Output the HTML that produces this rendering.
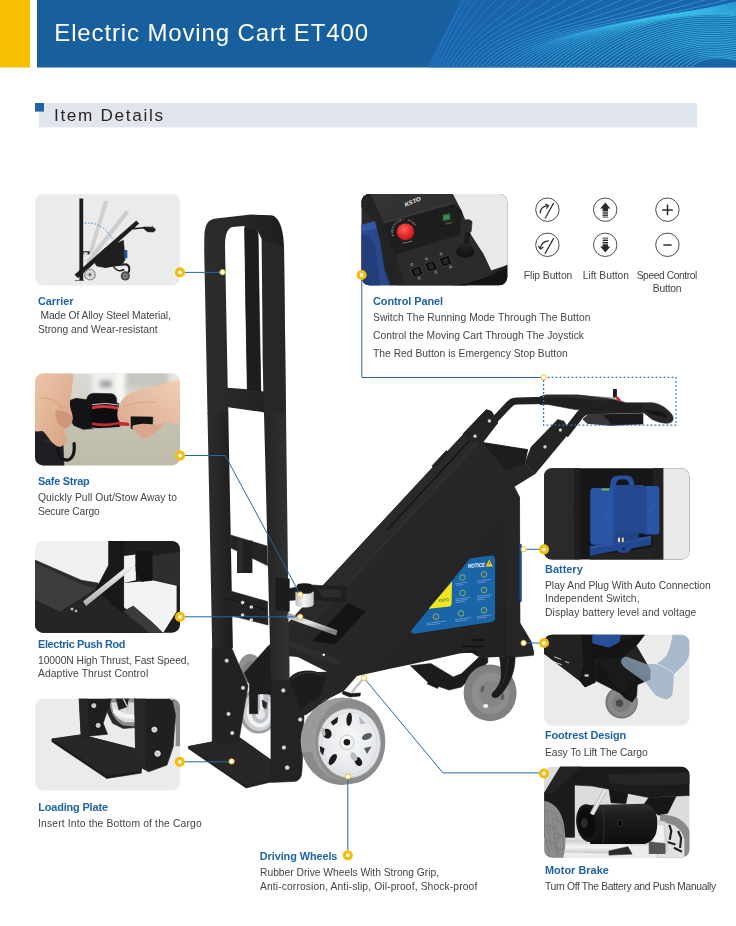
<!DOCTYPE html>
<html lang="en"><head><meta charset="utf-8"><title>Electric Moving Cart ET400</title>
<style>
html,body{margin:0;padding:0;background:#fff}
body{width:736px;height:926px;position:relative;overflow:hidden;font-family:"Liberation Sans",sans-serif}
svg{position:absolute;left:0;top:0}
#tx{position:absolute;left:0;top:0;width:736px;height:926px;will-change:transform}
.x{position:absolute;white-space:nowrap;line-height:1;font-family:"Liberation Sans",sans-serif}
.t{font-size:24.0px;font-weight:400;color:#ffffff}
.h{font-size:17.2px;font-weight:400;color:#2b2422}
.b{font-size:10.9px;font-weight:700;color:#1d63a6}
.r{font-size:10.3px;font-weight:400;color:#444444}
</style></head>
<body>
<svg width="736" height="926" viewBox="0 0 736 926">
<defs>
  <clipPath id="c1"><rect x="35" y="194" width="145" height="91.4" rx="8"/></clipPath>
  <clipPath id="c2"><rect x="35" y="373.6" width="145" height="91.8" rx="8"/></clipPath>
  <clipPath id="c3"><rect x="35" y="541" width="145" height="91.7" rx="8"/></clipPath>
  <clipPath id="c4"><rect x="35" y="698.8" width="145" height="91.8" rx="8"/></clipPath>
  <clipPath id="c5"><rect x="361.5" y="194" width="145.8" height="91.3" rx="8"/></clipPath>
  <clipPath id="c6"><rect x="544" y="468.2" width="145.4" height="91.3" rx="8"/></clipPath>
  <clipPath id="c7"><rect x="544" y="634.7" width="145.4" height="91" rx="8"/></clipPath>
  <clipPath id="c8"><rect x="544" y="766.7" width="145.4" height="91" rx="8"/></clipPath>
</defs>

<g id="header">
<rect x="0" y="0" width="30" height="67.5" fill="#f5c000"/>
<rect x="37" y="0" width="699" height="67.5" fill="#185f9d"/>
<clipPath id="hc"><rect x="37" y="0" width="699" height="67.5"/></clipPath>
<g clip-path="url(#hc)" fill="none" stroke-width="0.8">
<path d="M428 68 L466 -6 L740 -6 L740 68 Z" fill="#1b69b4" stroke="none" opacity="0.5"/>
<path d="M428.0 68 C440.3 42.8 449.2 26.4 466.0 -8.0" stroke="#2c7ce2" opacity="0.85"/>
<path d="M430.5 68 C443.0 42.8 449.3 25.0 468.8 -8.0" stroke="#2c7ee2" opacity="0.85"/>
<path d="M433.6 68 C446.4 42.5 452.8 24.2 474.6 -8.0" stroke="#2d81e2" opacity="0.85"/>
<path d="M436.9 68 C450.2 42.0 458.3 23.8 482.4 -8.0" stroke="#2d83e3" opacity="0.85"/>
<path d="M440.3 68 C454.3 41.1 465.3 23.6 491.9 -8.0" stroke="#2e86e3" opacity="0.85"/>
<path d="M444.0 68 C458.8 39.9 473.6 23.8 503.1 -8.0" stroke="#2e89e4" opacity="0.85"/>
<path d="M447.7 68 C463.5 38.3 482.9 24.2 515.6 -8.0" stroke="#2f8be4" opacity="0.85"/>
<path d="M451.5 68 C468.6 36.4 493.1 24.8 529.5 -8.0" stroke="#2f8ee5" opacity="0.85"/>
<path d="M455.4 68 C474.0 34.1 504.0 25.6 544.6 -8.0" stroke="#3091e5" opacity="0.85"/>
<path d="M459.4 68 C479.8 32.9 515.4 26.4 561.0 -8.0" stroke="#3193e5" opacity="0.85"/>
<path d="M463.4 68 C485.8 32.3 527.4 27.4 578.4 -8.0" stroke="#3196e6" opacity="0.85"/>
<path d="M467.5 68 C492.2 31.5 539.9 28.2 596.9 -8.0" stroke="#3299e6" opacity="0.85"/>
<path d="M471.7 68 C498.8 30.7 552.8 29.0 616.5 -8.0" stroke="#329be7" opacity="0.85"/>
<path d="M475.9 68 C505.8 29.8 566.2 29.5 637.0 -8.0" stroke="#339ee7" opacity="0.85"/>
<path d="M480.1 68 C513.0 28.8 579.9 29.9 658.5 -8.0" stroke="#33a1e8" opacity="0.85"/>
<path d="M484.4 68 C520.5 27.8 594.1 29.9 681.0 -8.0" stroke="#34a3e8" opacity="0.85"/>
<path d="M488.8 68 C528.3 26.6 608.6 29.5 704.4 -8.0" stroke="#35a6e9" opacity="0.85"/>
<path d="M493.2 68 C536.4 25.5 623.6 28.8 728.7 -8.0" stroke="#35a9e9" opacity="0.85"/>
<path d="M497.6 68 C544.7 24.3 638.9 27.5 753.8 -8.0" stroke="#36abe9" opacity="0.85"/>
<path d="M502.1 68 C551.6 23.7 649.2 26.1 770.0 -6.5" stroke="#36aeea" opacity="0.85"/>
<path d="M506.6 68 C555.7 24.2 650.2 23.3 770.0 -4.5" stroke="#37b1ea" opacity="0.85"/>
<path d="M511.1 68 C559.8 24.7 651.5 20.5 770.0 -2.6" stroke="#37b3eb" opacity="0.85"/>
<path d="M515.7 68 C563.9 25.2 652.9 18.0 770.0 -0.6" stroke="#38b6eb" opacity="0.85"/>
<path d="M520.3 68 C568.0 25.7 654.6 15.6 770.0 1.3" stroke="#39b9ec" opacity="0.85"/>
<path d="M524.9 68 C572.2 26.2 656.4 13.4 770.0 3.3" stroke="#39bbec" opacity="0.85"/>
<path d="M529.5 68 C576.3 26.8 658.3 11.3 770.0 5.3" stroke="#3abeed" opacity="0.85"/>
<path d="M534.2 68 C580.5 27.3 660.5 9.5 770.0 7.2" stroke="#3ac0ed" opacity="0.85"/>
<path d="M538.9 68 C584.6 27.8 662.7 7.8 770.0 9.2" stroke="#3bc3ed" opacity="0.85"/>
<path d="M543.7 68 C588.8 28.3 665.1 6.3 770.0 11.1" stroke="#3bc6ee" opacity="0.85"/>
<path d="M548.4 68 C592.9 28.8 667.6 4.9 770.0 13.1" stroke="#3cc8ee" opacity="0.85"/>
<path d="M553.2 68 C597.1 29.3 670.2 3.8 770.0 15.1" stroke="#3dcbef" opacity="0.85"/>
<path d="M558.1 68 C601.2 29.9 672.9 2.8 770.0 17.0" stroke="#3dceef" opacity="0.85"/>
<path d="M562.9 68 C605.4 30.4 675.7 2.1 770.0 19.0" stroke="#3ed0f0" opacity="0.85"/>
<path d="M567.7 68 C609.5 30.9 678.6 1.5 770.0 20.9" stroke="#3ed0f0" opacity="0.85"/>
<path d="M572.6 68 C613.7 31.4 681.2 2.4 770.0 22.9" stroke="#3ed0f0" opacity="0.85"/>
<path d="M577.5 68 C617.9 31.9 683.5 4.9 770.0 24.9" stroke="#3ed0f0" opacity="0.85"/>
<path d="M582.5 68 C622.0 32.4 685.8 7.4 770.0 26.8" stroke="#3ed0f0" opacity="0.85"/>
<path d="M587.4 68 C626.2 32.9 688.1 9.9 770.0 28.8" stroke="#3ed0f0" opacity="0.85"/>
<path d="M592.4 68 C630.3 33.4 690.4 12.4 770.0 30.7" stroke="#3ed0f0" opacity="0.85"/>
<path d="M597.3 68 C634.5 34.0 692.7 14.9 770.0 32.7" stroke="#3ed0f0" opacity="0.85"/>
<path d="M602.3 68 C638.6 34.5 695.1 17.4 770.0 34.7" stroke="#3ed0f0" opacity="0.85"/>
<path d="M607.4 68 C642.8 35.0 697.4 19.9 770.0 36.6" stroke="#3ed0f0" opacity="0.85"/>
<path d="M612.4 68 C646.9 35.5 699.7 22.4 770.0 38.6" stroke="#3ed0f0" opacity="0.85"/>
<path d="M617.5 68 C651.1 36.0 702.0 24.9 770.0 40.5" stroke="#3ed0f0" opacity="0.85"/>
<path d="M622.5 68 C655.2 36.5 704.4 27.4 770.0 42.5" stroke="#3ed0f0" opacity="0.85"/>
<path d="M627.6 68 C659.4 37.0 706.7 29.9 770.0 44.5" stroke="#3ed0f0" opacity="0.85"/>
<path d="M632.7 68 C663.5 37.5 709.1 32.4 770.0 46.4" stroke="#3ed0f0" opacity="0.85"/>
<path d="M637.9 68 C667.6 38.0 711.4 34.9 770.0 48.4" stroke="#3ed0f0" opacity="0.85"/>
<path d="M643.0 68 C671.8 38.5 713.8 37.4 770.0 50.4" stroke="#3ed0f0" opacity="0.85"/>
<path d="M648.2 68 C675.9 39.0 716.1 39.9 770.0 52.3" stroke="#3ed0f0" opacity="0.85"/>
<path d="M653.4 68 C680.1 39.9 718.5 42.4 770.0 54.3" stroke="#3ed0f0" opacity="0.85"/>
<path d="M658.5 68 C684.2 41.3 720.9 44.9 770.0 56.2" stroke="#3ed0f0" opacity="0.85"/>
<path d="M663.7 68 C688.3 42.8 723.2 47.4 770.0 58.2" stroke="#3ed0f0" opacity="0.85"/>
<path d="M669.0 68 C692.4 44.2 725.6 49.9 770.0 60.2" stroke="#3ed0f0" opacity="0.85"/>
<path d="M674.2 68 C696.6 45.6 727.9 52.4 770.0 62.1" stroke="#3ed0f0" opacity="0.85"/>
<path d="M679.5 68 C700.7 47.0 730.3 54.9 770.0 64.1" stroke="#3ed0f0" opacity="0.85"/>
<path d="M684.7 68 C704.8 48.3 732.6 57.4 770.0 66.0" stroke="#3ed0f0" opacity="0.85"/>
<path d="M690.0 68 C709.0 49.7 734.9 59.9 770.0 68.0" stroke="#3ed0f0" opacity="0.85"/>
</g>
<rect x="39" y="103" width="658" height="24.4" fill="#e1e6ee"/>
<rect x="35" y="103" width="9" height="8.6" fill="#1d63a6"/>
</g>
<g id="thumbs">
  <!-- 1 Carrier -->
  <g clip-path="url(#c1)">
    <rect x="35" y="194" width="145" height="92" fill="#ebebeb"/>
    <path d="M104.1 200.7 L108.1 201.5 L92.1 253.8 L88.4 253.0 Z" fill="#cfcfcf"/>
    <path d="M125.8 210.1 L129.1 212.7 L89.1 264.3 L85.4 262.0 Z" fill="#cdcdcd"/>
    <path d="M81.7 223.9 Q100.4 219.4 112.6 239.1" fill="none" stroke="#3a8fd0" stroke-width="1" stroke-dasharray="1.5 1.7"/>
    <rect x="79.4" y="198.5" width="3.8" height="82.2" fill="#1c1c1c"/>
    <path d="M74.9 280.5 L83.9 280.5" stroke="#555" stroke-width="0.8"/>
    <path d="M82.4 251.5 L89.3 251.5 L89.3 254.1 L82.4 254.1 Z" fill="#2a2a2a" stroke="#2a2a2a" stroke-width="0.6" stroke-linejoin="round"/>
    <rect x="83.6" y="252.3" width="4" height="2.2" fill="#ddd"/>
    <!-- beam -->
    <path d="M136.2 220.9 L138.9 223.4 L77.9 277.7 L74.9 274.7 Z" fill="#1d1d1d" stroke="#1d1d1d" stroke-width="0.6" stroke-linejoin="round"/>
    <!-- body -->
    <path d="M104.8 248.6 L123.5 240.3 L125.0 259.8 L122.8 263.5 L113.1 265.4 L104.8 267.5 L96.6 266.0 L93.6 260.5 Z" fill="#202020" stroke="#202020" stroke-width="0.6" stroke-linejoin="round"/>
    <rect x="124.3" y="250.1" width="3" height="8.2" fill="#1c4f9a"/>
    <!-- rear arm -->
    <path d="M104.8 266.9 L113.1 265.4 L125.8 264.3 Q130.3 265.7 129.1 271.0 L127.3 274.0" fill="none" stroke="#1c1c1c" stroke-width="2"/>
    <path d="M113.1 265.7 Q116.8 273.2 124.3 269.5" fill="none" stroke="#1c1c1c" stroke-width="1.4"/>
    <!-- handle -->
    <path d="M137.0 222.1 L133.5 228.7 L143.7 227.8 L148.2 229.3" fill="none" stroke="#1c1c1c" stroke-width="1.6" stroke-linejoin="round"/>
    <path d="M143.7 226.9 L153.4 227.2 L155.7 229.9 L153.4 232.0 L147.4 231.7 L144.5 229.3 Z" fill="#1d1d1d" stroke="#1d1d1d" stroke-width="0.6" stroke-linejoin="round"/>
    <path d="M152.4 225.7 v3" stroke="#7a2a2a" stroke-width="0.6"/>
    <!-- wheels -->
    <circle cx="89.9" cy="274.7" r="5.9" fill="#8e8e8e"/><circle cx="89.9" cy="274.7" r="4.6" fill="#e6e8ea"/>
    <path d="M89.9 270.5 V278.9 M85.7 274.7 H94.1 M86.9 271.7 L92.9 277.7 M92.9 271.7 L86.9 277.7" stroke="#8a8d90" stroke-width="0.6"/>
    <circle cx="89.9" cy="274.7" r="1.1" fill="#444"/>
    <circle cx="125.3" cy="275.9" r="4.6" fill="#4c4c4c"/><circle cx="125.3" cy="275.9" r="2.6" fill="#8a8a8a"/><circle cx="125.3" cy="275.9" r="1" fill="#444"/>
  </g>
  <!-- 2 Safe strap photo -->
  <g clip-path="url(#c2)">
    <defs>
      <linearGradient id="gS2" x1="0" y1="0" x2="0" y2="1"><stop offset="0" stop-color="#d9d9d3"/><stop offset="0.4" stop-color="#d2d1c8"/><stop offset="0.56" stop-color="#c4c1b1"/><stop offset="1" stop-color="#bebbaa"/></linearGradient>
      <linearGradient id="gSkin" x1="0" y1="0" x2="1" y2="1"><stop offset="0" stop-color="#efc9ad"/><stop offset="1" stop-color="#d7a283"/></linearGradient>
      <linearGradient id="gSkin2" x1="1" y1="0" x2="0" y2="1"><stop offset="0" stop-color="#f1cfb6"/><stop offset="1" stop-color="#d9a689"/></linearGradient>
      <filter id="bl" x="-20%" y="-20%" width="140%" height="140%"><feGaussianBlur stdDeviation="2.2"/></filter>
    </defs>
    <rect x="35" y="373" width="145" height="93" fill="url(#gS2)"/>
    <g filter="url(#bl)">
      <rect x="91.7" y="369" width="27.2" height="45.0" fill="#eef0ee"/>
      <rect x="116.8" y="369" width="8" height="38" fill="#f8f8f6"/>
      <rect x="126.2" y="369" width="41.8" height="18.6" fill="#c6c6c0"/>
      <rect x="169.1" y="369" width="14" height="30" fill="#e6e6e2"/>
      <rect x="100.0" y="380.5" width="12" height="7" fill="#9a9c98"/>
    </g>
    <!-- trousers -->
    <path d="M33.1 425.5 L62.4 428.6 L64.1 467.3 L33.1 467.3 Z" fill="#1e1f23" stroke="#1e1f23" stroke-width="0.6" stroke-linejoin="round"/>
    <path d="M43.6 441.2 h8" stroke="#38393d" stroke-width="0.8"/>
    <!-- ratchet -->
    <path d="M86.4 403.5 Q85.8 393.7 93.8 393.3 L111.5 393.7 Q117.2 394.1 116.8 403.5 Z" fill="#151517" stroke="#151517" stroke-width="0.6" stroke-linejoin="round"/>
    <path d="M69.7 400.4 L76.0 398.3 L91.7 400.4 L94.8 403.5 L93.8 428.6 L83.3 429.3 L73.9 425.5 L69.7 418.2 Z" fill="#141416" stroke="#141416" stroke-width="0.6" stroke-linejoin="round"/>
    <path d="M91.7 402.5 L118.9 403.5 L119.9 426.5 L91.7 428.6 Z" fill="#0d0d0f" stroke="#0d0d0f" stroke-width="0.6" stroke-linejoin="round"/>
    <path d="M92.1 406.2 Q105.3 403.7 118.4 406.7 L118.4 409.6 Q105.3 406.7 92.1 409.2 Z" fill="#d9363a"/>
    <path d="M92.1 422.3 Q105.3 425.1 118.9 421.7 L118.9 424.2 Q105.3 427.6 92.1 425.1 Z" fill="#c72c30"/>
    <path d="M92.1 404.6 Q105.3 402.1 118.9 405.0" stroke="#cfd2d4" stroke-width="1" fill="none"/>
    <path d="M91.7 428.0 Q105.3 430.1 123.1 428.0" stroke="#b9bcbe" stroke-width="1.2" fill="none"/>
    <path d="M118.9 421.3 L129.3 422.3 L129.3 425.9 L118.9 425.5 Z" fill="#c9282c"/>
    <!-- hook -->
    <path d="M65.5 423.8 Q58.2 431.8 57.8 450.6 Q58.6 459.4 67.0 460.2 Q75.4 458.5 74.1 443.5" fill="none" stroke="#151517" stroke-width="3.2" stroke-linecap="round"/>
    <!-- left hand -->
    <path d="M33.1 371.1 C39.2 362.0 63.2 368.3 69.7 371.1 C76.2 373.9 72.0 382.2 72.0 387.8 C72.0 393.4 69.8 399.6 69.9 404.6 C70.1 409.5 72.8 414.0 72.8 417.5 C72.8 421.1 71.3 423.8 69.9 425.9 C68.5 428.0 65.0 427.7 64.5 430.1 C63.9 432.5 67.3 437.3 66.6 440.1 C65.9 442.9 62.7 446.5 60.3 446.8 C57.8 447.2 54.7 444.7 51.9 442.2 C49.1 439.7 46.7 434.5 43.6 431.8 C40.4 429.0 34.8 436.0 33.1 425.9 C31.3 415.8 27.0 380.2 33.1 371.1 Z" fill="url(#gSkin)"/>
    <path d="M56.1 410.8 C58.0 409.2 67.1 412.2 69.7 414.0 C72.4 415.7 72.5 419.0 72.0 421.3 C71.5 423.6 68.9 427.6 66.6 428.0 C64.3 428.4 59.9 426.7 58.2 423.8 C56.5 421.0 54.2 412.5 56.1 410.8 Z" fill="#c98f72" opacity="0.75"/>
    <path d="M39.4 398.3 Q54.0 396.2 62.4 408.7" stroke="#c08a6e" stroke-width="0.8" fill="none" opacity="0.7"/>
    <!-- right hand -->
    <path d="M182.7 382.8 C178.3 377.0 164.4 384.4 156.5 385.7 C148.7 387.1 141.2 388.8 135.6 391.0 C130.0 393.1 126.0 395.4 123.1 398.7 C120.1 402.0 118.2 407.1 117.6 410.8 C117.0 414.6 117.3 419.2 119.3 421.3 C121.2 423.4 126.6 421.6 129.3 423.4 C132.0 425.1 133.1 429.3 135.6 431.8 C138.1 434.2 140.9 438.0 144.4 438.0 C147.9 438.0 153.1 434.3 156.5 431.8 C159.9 429.2 160.5 424.4 164.9 422.6 C169.2 420.7 179.7 427.1 182.7 420.5 C185.6 413.8 187.0 388.6 182.7 382.8 Z" fill="url(#gSkin2)"/>
    <path d="M131.0 416.7 L152.8 417.1 L152.3 429.7 L145.0 431.3 L131.0 428.4 Z" fill="#131315" stroke="#131315" stroke-width="0.6" stroke-linejoin="round"/>
    <path d="M132.7 425.9 C134.1 424.6 139.6 424.0 144.0 423.8 C148.3 423.6 155.1 424.9 158.6 424.6 C162.1 424.4 165.2 421.4 164.9 422.6 C164.5 423.7 159.9 429.2 156.5 431.8 C153.1 434.3 147.9 438.0 144.4 438.0 C140.9 438.0 137.6 433.8 135.6 431.8 C133.6 429.7 131.3 427.2 132.7 425.9 Z" fill="#d9a88b"/>
    <path d="M123.1 406.7 Q139.8 400.4 156.5 402.5" stroke="#c89477" stroke-width="0.8" fill="none" opacity="0.7"/>
  </g>
  <!-- 3 Push rod -->
  <g clip-path="url(#c3)">
    <defs>
      <linearGradient id="gR3" x1="0" y1="0" x2="0.5" y2="1"><stop offset="0" stop-color="#9a9da0"/><stop offset="0.45" stop-color="#f2f3f4"/><stop offset="1" stop-color="#85888b"/></linearGradient>
    </defs>
    <rect x="35" y="541" width="145" height="92" fill="#f0f0f0"/>
    <!-- right dark zone -->
    <rect x="108.7" y="541" width="72" height="92" fill="#1e1e1e"/>
    <path d="M152 556 L180 552 L180 586 L152.2 580.3 Z" fill="#2e2e2e" stroke="#2e2e2e" stroke-width="0.6" stroke-linejoin="round"/>
    <!-- white gaps -->
    <path d="M123.6 556 L135.9 554.5 L135.9 580.3 L123.6 583 Z" fill="#f1f1f1"/>
    <path d="M123.6 583 L141.3 581.6 L152.2 580.3 L176.6 585.7 L176.6 611.5 L163 633 L152.2 622.4 L133.2 606 L123.6 611.5 Z" fill="#f3f3f3"/>
    <!-- clamp -->
    <path d="M135.9 551.6 L152 551.6 L152.2 580.3 L141.3 581.6 L135.9 571 Z" fill="#141414" stroke="#141414" stroke-width="0.6" stroke-linejoin="round"/>
    <!-- slab from left -->
    <path d="M35 560 L81.5 580.3 L97.8 583 L108.7 600 L125 612 L163 633 L35 633 Z" fill="#2c2c2c" stroke="#2c2c2c" stroke-width="0.6" stroke-linejoin="round"/>
    <path d="M35 563 L80 584 L96 589 L60 612 L35 600 Z" fill="#3d3d3d" stroke="#3d3d3d" stroke-width="0.6" stroke-linejoin="round"/>
    <path d="M35 600 L60 612 L96 589 L112 600 L163 633 L35 633 Z" fill="#252525" stroke="#252525" stroke-width="0.6" stroke-linejoin="round"/>
    <path d="M96 589 L108.7 565 L108.7 541 L123.6 541 L123.6 611.5 L128 616 L112 604 Z" fill="#181818" stroke="#181818" stroke-width="0.6" stroke-linejoin="round"/>
    <path d="M123.6 611.5 L133.2 606 L152.2 622.4 L163 633 L150 633 Z" fill="#3b3b3b" stroke="#3b3b3b" stroke-width="0.6" stroke-linejoin="round"/>
    <!-- silver rod -->
    <path d="M83 601.6 L137.4 558 L140.6 562 L86.2 606 Z" fill="url(#gR3)"/>
    <path d="M136 555 L146 557 L147 572 L140 574 L135.6 566 Z" fill="#151515" stroke="#151515" stroke-width="0.6" stroke-linejoin="round"/>
    <circle cx="72" cy="609" r="1.5" fill="#bfbfbf"/><circle cx="76" cy="611" r="1.3" fill="#bfbfbf"/>
  </g>
  <!-- 4 Loading plate -->
  <g clip-path="url(#c4)">
    <rect x="35" y="698" width="145" height="93" fill="#ebebeb"/>
    <!-- wheel between posts -->
    <path d="M106.3 697.1 L135.6 697.1 L135.6 727.5 L123.1 728.5 L112.6 723.3 L107.4 712.8 Z" fill="#2a2a2a" stroke="#2a2a2a" stroke-width="0.6" stroke-linejoin="round"/>
    <path d="M109.5 697.1 Q108.8 717.0 123.1 725.4 L135.6 726.4 L135.6 697.1 Z" fill="#8d8d8d"/>
    <path d="M111.5 702.4 Q111.5 717.0 125.1 722.2 L135.6 722.2 L135.6 702.4 Z" fill="#d9dbdd"/>
    <path d="M113.6 708.6 Q123.1 714.9 135.6 714.9 L135.6 719.1 Q121.0 719.5 113.0 712.8 Z" fill="#f3f4f5"/>
    <path d="M115.7 697.1 L129.3 697.1 L127.7 706.6 L118.9 709.7 Z" fill="#222" stroke="#222222" stroke-width="0.6" stroke-linejoin="round"/>
    <path d="M123.1 698.2 l4 8 M129.3 700.3 l-2 10" stroke="#bfc2c4" stroke-width="1.4"/>
    <!-- far right tire -->
    <path d="M170.1 697.1 Q177.4 719.1 175.4 746.3 L182.7 746.3 L182.7 697.1 Z" fill="#8c8c8c"/>
    <path d="M176.4 706.6 l5 6 l-1 9 M177.0 717.0 l5 6 l-1 9 M177.4 727.5 l4 6 l-2 9" stroke="#777" stroke-width="0.6" fill="none"/>
    <!-- plate -->
    <path d="M51.9 739.0 L81.2 734.8 L135.6 748.8 L141.3 767.6 L141.3 773.1 L106.7 778.5 L51.9 741.7 Z" fill="#191919" stroke="#191919" stroke-width="0.6" stroke-linejoin="round"/>
    <path d="M51.9 739.0 L81.2 734.8 L135.6 748.8 L141.3 767.6 L141.3 770.6 L106.7 776.0 Z" fill="#272727" stroke="#272727" stroke-width="0.6" stroke-linejoin="round"/>
    <!-- posts -->
    <path d="M79.1 697.1 L111.8 697.1 L103.2 723.3 L107.6 734.2 L81.2 736.9 Z" fill="#1f1f1f" stroke="#1f1f1f" stroke-width="0.6" stroke-linejoin="round"/>
    <path d="M79.1 697.1 L87.5 697.1 L88.5 735.8 L81.2 736.9 Z" fill="#262626" stroke="#262626" stroke-width="0.6" stroke-linejoin="round"/>
    <path d="M134.6 697.1 L171.6 697.1 L175.4 714.9 L173.3 746.3 L167.0 765.1 L148.6 771.8 L141.3 767.6 L135.6 752.6 Z" fill="#202020" stroke="#202020" stroke-width="0.6" stroke-linejoin="round"/>
    <path d="M134.6 697.1 L145.0 697.1 L145.6 769.7 L141.3 767.6 L135.6 752.6 Z" fill="#282828" stroke="#282828" stroke-width="0.6" stroke-linejoin="round"/>
    <circle cx="93.8" cy="705.7" r="3.5" fill="#111"/><circle cx="93.8" cy="705.7" r="2.4" fill="#e4e4e4" stroke="#9a9a9a" stroke-width="0.5"/><circle cx="93.8" cy="705.7" r="1.1" fill="#b9b9b9"/><circle cx="98.2" cy="725.4" r="3.5" fill="#111"/><circle cx="98.2" cy="725.4" r="2.4" fill="#e4e4e4" stroke="#9a9a9a" stroke-width="0.5"/><circle cx="98.2" cy="725.4" r="1.1" fill="#b9b9b9"/><circle cx="154.4" cy="729.6" r="4.0" fill="#111"/><circle cx="154.4" cy="729.6" r="2.9" fill="#e4e4e4" stroke="#9a9a9a" stroke-width="0.5"/><circle cx="154.4" cy="729.6" r="1.3" fill="#b9b9b9"/><circle cx="157.6" cy="753.6" r="4.2" fill="#111"/><circle cx="157.6" cy="753.6" r="3.1" fill="#e4e4e4" stroke="#9a9a9a" stroke-width="0.5"/><circle cx="157.6" cy="753.6" r="1.4" fill="#b9b9b9"/>
    <circle cx="171.6" cy="699.0" r="1.4" fill="#e0e0e0"/>
  </g>
  <!-- 5 Control panel -->
  <g clip-path="url(#c5)">
    <defs>
      <radialGradient id="gRed" cx="0.42" cy="0.36" r="0.7"><stop offset="0" stop-color="#ff6058"/><stop offset="0.6" stop-color="#e3262c"/><stop offset="1" stop-color="#b5141a"/></radialGradient>
      <linearGradient id="gP5" x1="0" y1="0" x2="1" y2="1"><stop offset="0" stop-color="#353535"/><stop offset="1" stop-color="#272727"/></linearGradient>
    </defs>
    <rect x="361" y="194" width="147" height="92" fill="#2a2a2a"/>
    <!-- light bg -->
    <path d="M452.2 193.1 L507.6 193.1 L507.6 264.9 L490.9 270.5 L482.5 252.8 L471.0 235.0 L461.6 210.9 Z" fill="#e9e9e9"/>
    <!-- panel top surface -->
    <path d="M369.6 193.1 L452.2 193.1 L461.6 210.9 L471.0 235.0 L482.5 252.8 L490.9 270.5 L465.8 286.2 L396.7 286.2 L384.2 269.5 L380.0 242.3 L374.8 221.4 L361.2 206.7 L361.2 193.1 Z" fill="url(#gP5)"/>
    <!-- left dark face -->
    <path d="M361.2 193.1 L369.6 193.1 L383.2 221.4 L395.7 254.9 L405.1 286.2 L390.5 286.2 L384.2 269.5 L380.0 242.3 L374.8 221.4 L361.2 206.7 Z" fill="#232323" stroke="#232323" stroke-width="0.6" stroke-linejoin="round"/>
    <!-- blue battery -->
    <path d="M360.1 225.6 L374.8 221.4 L380.0 242.3 L384.2 269.5 L390.5 286.2 L360.1 286.2 Z" fill="#29498c" stroke="#29498c" stroke-width="0.6" stroke-linejoin="round"/>
    <path d="M360.1 235.0 Q371.6 235.0 374.8 246.5 L380.0 286.2 L360.1 286.2 Z" fill="#213d7a" stroke="#213d7a" stroke-width="0.6" stroke-linejoin="round"/>
    <path d="M360.1 225.6 L374.8 221.4 L376.9 228.7 L360.1 231.8 Z" fill="#3159a6"/>
    <!-- raised dark plate -->
    <path d="M383.2 221.4 L452.2 202.6 L461.6 210.9 L459.9 235.0 L395.7 254.9 Z" fill="#1e1e1e" stroke="#1e1e1e" stroke-width="0.6" stroke-linejoin="round"/>
    <path d="M383.2 221.4 L452.2 202.6 L452.8 203.8 L384.2 223.1 Z" fill="#3c3c3c" stroke="#3c3c3c" stroke-width="0.6" stroke-linejoin="round"/>
    <!-- front lower face -->
    <path d="M395.7 254.9 L459.9 235.0 L482.5 252.8 L490.9 270.5 L465.8 286.2 L405.1 286.2 Z" fill="#2b2b2b" stroke="#2b2b2b" stroke-width="0.6" stroke-linejoin="round"/>
    <!-- tube -->
    <path d="M447.0 286.7 Q482.5 282.1 507.6 264.9 L507.6 286.7 Z" fill="#141414" stroke="#141414" stroke-width="0.6" stroke-linejoin="round"/>
    <path d="M455.3 284.6 Q484.6 280.0 507.6 266.6" stroke="#333" stroke-width="0.8" fill="none"/>
    <!-- logo -->
    <text x="405.5" y="206.7" font-family="Liberation Sans, sans-serif" font-size="5.6" font-weight="700" font-style="italic" fill="#f4f4f4" textLength="17" lengthAdjust="spacingAndGlyphs" transform="rotate(-22 405.5 206.7)">KSTO</text>
    <!-- e-stop -->
    <ellipse cx="405.5" cy="231.8" rx="8.8" ry="8.4" fill="url(#gRed)"/>
    <text font-family="Liberation Sans, sans-serif" font-size="2.7" fill="#dcdcdc" text-anchor="middle" x="394.8 394.2 394.1 394.6 395.6 397.1 398.9 401.1 403.5 405.9 408.4 410.7 412.8 414.5" y="235.7 233.3 230.8 228.4 226.1 224.1 222.5 221.3 220.6 220.4 220.8 221.6 223.0 224.8" rotate="-110 -98 -85 -73 -60 -48 -35 -23 -10 2 15 27 40 52">EMERGENCY STOP</text>
    <path d="M402.6 243.3 l2 -0.6 M405.1 242.9 l2 -0.6 M407.6 242.3 l2 -0.6 M410.1 241.7 l2 -0.6" stroke="#d0d0d0" stroke-width="0.6"/>
    <!-- display -->
    <path d="M442.8 214.7 L450.1 213.4 L450.3 219.7 L443.0 221.0 Z" fill="#245a33" stroke="#245a33" stroke-width="0.6" stroke-linejoin="round"/>
    <path d="M443.6 215.5 L449.3 214.5 L449.5 218.9 L443.8 219.9 Z" fill="#3d8a4e"/>
    <g fill="#0e0e0e"><circle cx="435.5" cy="211.3" r="0.9"/><circle cx="451.6" cy="206.3" r="0.9"/><circle cx="441.1" cy="226.0" r="0.9"/><circle cx="457.4" cy="221.4" r="0.9"/></g>
    <text x="445.7" y="224.5" font-family="Liberation Sans, sans-serif" font-size="2.4" fill="#cfcfcf" transform="rotate(-10 445.7 224.5)">KSTO</text>
    <!-- joystick -->
    <ellipse cx="465.4" cy="251.9" rx="9.2" ry="5.8" fill="#131313"/>
    <ellipse cx="465.6" cy="249.0" rx="7.4" ry="4.6" fill="#1a1a1a"/>
    <ellipse cx="465.8" cy="246.1" rx="5.6" ry="3.6" fill="#222"/>
    <ellipse cx="466.0" cy="243.6" rx="4" ry="2.6" fill="#262626"/>
    <path d="M464.7 243.3 L465.4 230.8 L470.0 230.8 L468.5 243.3 Z" fill="#1b1b1b" stroke="#1b1b1b" stroke-width="0.6" stroke-linejoin="round"/>
    <path d="M462.6 230.8 L462.9 221.4 Q467.3 217.6 472.1 221.4 L471.2 231.4 Q467.3 233.5 462.6 230.8 Z" fill="#2a2a2a" stroke="#2a2a2a" stroke-width="0.6" stroke-linejoin="round"/>
    <!-- rocker switches -->
    <g fill="#0e0e0e" stroke="#585858" stroke-width="0.5">
      <path d="M410.3 269.1 L419.8 265.7 L423.5 274.1 L413.9 277.4 Z"/><path d="M424.4 263.6 L434.0 260.5 L437.8 268.7 L428.1 272.0 Z"/><path d="M439.0 258.6 L448.6 255.3 L452.4 263.6 L442.8 266.8 Z"/>
    </g>
    <g fill="#272727"><path d="M413.5 269.9 L418.1 268.2 L420.2 273.3 L415.6 274.9 Z"/><path d="M427.7 264.5 L432.3 262.8 L434.4 267.8 L429.8 269.5 Z"/><path d="M442.4 259.5 L447.0 257.8 L449.1 262.8 L444.4 264.5 Z"/></g>
    <g fill="none" stroke="#cfcfcf" stroke-width="0.5"><circle cx="411.8" cy="264.5" r="1.1"/><circle cx="426.5" cy="259.0" r="1.1"/><circle cx="441.1" cy="254.0" r="1.1"/><circle cx="419.3" cy="278.3" r="1.1"/><circle cx="435.7" cy="272.4" r="1.1"/><circle cx="450.7" cy="267.0" r="1.1"/></g>
  </g>
  <!-- 6 Battery -->
  <g clip-path="url(#c6)">
    <rect x="544" y="468" width="146" height="92" fill="#171717"/>
    <rect x="544" y="468" width="30.5" height="92" fill="#2a2a2a"/>
    <rect x="574.5" y="468" width="6" height="92" fill="#1f1f1f"/>
    <rect x="653" y="468" width="10.4" height="92" fill="#212121"/>
    <rect x="663.4" y="468" width="27" height="92" fill="#e9e9e9"/>
    <!-- floor -->
    <path d="M590.2 556.1 L653.0 547.7 L653.0 564.4 L590.2 564.4 Z" fill="#232323" stroke="#232323" stroke-width="0.6" stroke-linejoin="round"/>
    <!-- bar -->
    <path d="M590.2 546.6 L650.9 536.2 L650.9 544.5 L632.1 548.1 L627.4 552.3 L620.5 552.7 L616.4 550.2 L590.2 555.6 Z" fill="#23488f" stroke="#23488f" stroke-width="0.6" stroke-linejoin="round"/>
    <path d="M590.2 546.6 L650.9 536.2 L650.9 538.3 L590.2 548.9 Z" fill="#2c55a2"/>
    <circle cx="623.7" cy="548.7" r="1.5" fill="#142a55"/>
    <!-- handle -->
    <path d="M610.1 488.7 L610.1 483.9 Q610.5 475.9 618.5 475.5 L626.8 475.5 Q634.1 476.1 634.1 483.9 L634.1 488.7 Z" fill="#2750a0"/>
    <path d="M616.4 486.0 Q616.4 479.9 620.5 479.7 L625.4 479.7 Q628.9 480.1 628.9 486.0 Z" fill="#171717" stroke="#171717" stroke-width="0.6" stroke-linejoin="round"/>
    <!-- centre block -->
    <rect x="615.3" y="484.9" width="29.3" height="48.5" rx="2.5" fill="#234890"/>
    <path d="M616.4 533.0 L638.3 532.0 L638.3 539.7 L616.4 541.8 Z" fill="#214488" stroke="#214488" stroke-width="0.6" stroke-linejoin="round"/>
    <!-- left block -->
    <rect x="590.2" y="488.1" width="26.4" height="56.7" rx="4" fill="#2a54a4"/>
    <path d="M613.6 489.1 L616.6 490.2 L616.6 543.5 L613.6 544.3 Z" fill="#244a96" stroke="#244a96" stroke-width="0.6" stroke-linejoin="round"/>
    <!-- right block -->
    <rect x="643.6" y="486.0" width="15.7" height="48.5" rx="3.5" fill="#2a54a4"/>
    <path d="M643.6 487.0 L646.1 486.6 L646.1 534.1 L643.6 533.7 Z" fill="#244a96" stroke="#244a96" stroke-width="0.6" stroke-linejoin="round"/>
    <rect x="601.7" y="488.5" width="7.4" height="2" fill="#6fbf3f"/>
    <text x="605.3" y="518.8" font-family="Liberation Sans, sans-serif" font-size="3" font-weight="700" fill="#3f69b5" transform="rotate(-60 605.3 518.8)">KSTO</text>
    <text x="649.8" y="512.5" font-family="Liberation Sans, sans-serif" font-size="3" font-weight="700" fill="#3f69b5" transform="rotate(-60 649.8 512.5)">KSTO</text>
    <rect x="617.8" y="537.2" width="2.4" height="5" fill="#d8d8d8" stroke="#222" stroke-width="0.4"/>
    <rect x="621.6" y="537.2" width="2.4" height="5" fill="#d8d8d8" stroke="#222" stroke-width="0.4"/>
    <circle cx="573.5" cy="511.7" r="0.7" fill="#0c0c0c"/>
  </g>
  <!-- 7 Footrest -->
  <g clip-path="url(#c7)">
    <rect x="544" y="634" width="146" height="92" fill="#ebebeb"/>
    <!-- body -->
    <path d="M542.1 633.1 L645.6 633.1 L638.3 643.0 L635.2 646.3 L596.5 658.2 L595.4 682.3 L585.0 686.9 L579.7 680.6 L543.1 652.6 Z" fill="#1b1b1b" stroke="#1b1b1b" stroke-width="0.6" stroke-linejoin="round"/>
    <path d="M542.1 633.1 L581.8 633.1 L583.9 665.6 L579.7 680.6 L543.1 652.6 Z" fill="#222" stroke="#222222" stroke-width="0.6" stroke-linejoin="round"/>
    <path d="M581.8 633.1 L593.3 633.1 L594.8 682.3 L585.0 686.9 L579.7 680.6 L583.9 665.6 Z" fill="#161616" stroke="#161616" stroke-width="0.6" stroke-linejoin="round"/>
    <!-- battery -->
    <path d="M592.3 633.1 L621.2 633.1 L619.5 642.6 L609.0 648.0 L592.3 643.8 Z" fill="#27509a"/>
    <path d="M592.3 643.8 L609.0 648.0 L619.5 642.6 L644.6 634.6 L638.3 643.0 L635.2 646.3 L596.5 658.2 L592.3 656.8 Z" fill="#141414" stroke="#141414" stroke-width="0.6" stroke-linejoin="round"/>
    <!-- slots -->
    <path d="M554.2 656.8 l7 2.6 M553.0 661.4 l9 3.4 M565.1 661.4 l4 1.5" stroke="#dcdcdc" stroke-width="0.9"/>
    <rect x="584.6" y="674.4" width="4" height="2.2" fill="#d6d6d6"/>
    <!-- caster -->
    <circle cx="621.6" cy="702.2" r="16.2" fill="#767676"/>
    <circle cx="622.0" cy="702.2" r="14.4" fill="#8a8a8a"/>
    <circle cx="621.2" cy="703.2" r="9" fill="#7c7c7c"/>
    <circle cx="619.5" cy="703.2" r="3.6" fill="#4a4a4a"/>
    <path d="M619.5 691.9 L637.3 684.8 L636.7 695.3 L632.1 702.2 L624.7 698.0 Z" fill="#171717" stroke="#171717" stroke-width="0.6" stroke-linejoin="round"/>
    <!-- footrest wedge -->
    <path d="M596.5 658.2 L636.2 645.9 L650.0 669.7 L650.0 679.4 L637.3 684.8 L623.7 695.3 L619.5 692.8 L595.4 680.6 Z" fill="#151515" stroke="#151515" stroke-width="0.6" stroke-linejoin="round"/>
    <path d="M636.2 645.9 L650.0 669.7 L650.0 679.4 L640.4 674.4 L623.7 657.2 Z" fill="#232323" stroke="#232323" stroke-width="0.6" stroke-linejoin="round"/>
    <path d="M596.5 658.2 L623.7 657.2 L640.4 674.4 L623.7 692.8 L619.5 692.8 Z" fill="#1a1a1a" stroke="#1a1a1a" stroke-width="0.6" stroke-linejoin="round"/>
    <!-- foot -->
    <path d="M672.6 634 L690 634 L690 652.3 Q688 660 684.4 664 L674 674.3 L672.6 693.4 Q670 699.6 665.3 699.2 Q659 698 655 694.8 L646.2 683 L625.7 668.4 Q620 664 621.3 659.6 Q623 656.2 627 656.7 L646.2 664 L656.5 664 Q663 660 666.8 655.2 Q671 646 672.6 634 Z" fill="#8fa7be" opacity="0.74"/>
    <path d="M656.5 664 Q668 668 674 674.3" fill="none" stroke="#e8eef4" stroke-width="0.7"/>
  </g>
  <!-- 8 Motor brake -->
  <g clip-path="url(#c8)">
    <defs>
      <linearGradient id="gM8" x1="0" y1="0" x2="0" y2="1"><stop offset="0" stop-color="#303030"/><stop offset="0.3" stop-color="#1c1c1c"/><stop offset="1" stop-color="#0f0f0f"/></linearGradient>
      <linearGradient id="gAx" x1="0" y1="0" x2="0" y2="1"><stop offset="0" stop-color="#c9cbcd"/><stop offset="0.5" stop-color="#f4f5f6"/><stop offset="1" stop-color="#bfc1c3"/></linearGradient>
    </defs>
    <rect x="544" y="766" width="146" height="92" fill="#dcdcdc"/>
    <rect x="544" y="846" width="146" height="12" fill="#ececec"/>
    <!-- chassis -->
    <path d="M560.9 766.2 L690.6 766.2 L690.6 795.5 L665.5 796.5 L648.8 797.6 L627.9 793.4 L609.0 789.2 L592.3 786.1 L574.5 785.0 L574.5 837.3 L544.2 837.3 L544.2 793.4 Z" fill="#1b1b1b" stroke="#1b1b1b" stroke-width="0.6" stroke-linejoin="round"/>
    <path d="M609.0 774.6 L690.6 772.5 L690.6 784.0 L636.2 785.4 L609.0 782.9 Z" fill="#262626" stroke="#262626" stroke-width="0.6" stroke-linejoin="round"/>
    <path d="M560.9 766.2 L581.8 766.2 L552.6 793.4 L544.2 793.4 Z" fill="#242424" stroke="#242424" stroke-width="0.6" stroke-linejoin="round"/>
    <!-- mounts -->
    <path d="M609.0 789.2 L627.9 793.4 L625.8 803.8 L611.1 802.8 Z" fill="#151515" stroke="#151515" stroke-width="0.6" stroke-linejoin="round"/>
    <path d="M648.8 797.6 L676.0 796.5 L667.6 813.3 L659.2 815.3 L642.5 806.4 Z" fill="#171717" stroke="#171717" stroke-width="0.6" stroke-linejoin="round"/>
    <!-- axle -->
    <path d="M565.1 839.8 L630.0 841.5 L630.0 854.1 L565.1 852.4 Z" fill="url(#gAx)"/>
    <path d="M609.0 850.9 L627.9 846.7 L632.1 854.1 L609.0 855.1 Z" fill="#2a2a2a" stroke="#2a2a2a" stroke-width="0.6" stroke-linejoin="round"/>
    <!-- right wheel -->
    <path d="M660.3 814.3 Q684.4 815.3 690.6 833.1 L690.6 858.2 L657.2 858.2 Z" fill="#8a8a8a"/>
    <path d="M663.4 822.7 Q680.2 823.7 684.4 839.4 L684.4 858.2 L657.2 858.2 Z" fill="#dfe1e3"/>
    <path d="M669.3 824.8 l2 6 l-1.6 9 M678.1 831.0 l3 7 l-1 10 M665.5 841.5 l10 3 M673.9 847.8 l8 4" stroke="#222" stroke-width="2.2" fill="none"/>
    <!-- gearbox -->
    <path d="M648.8 819.5 L665.5 821.6 L668.7 852.0 L649.8 854.1 Z" fill="#d3d5d7"/>
    <path d="M653.0 824.8 L663.4 825.8 L664.5 841.5 L654.0 842.5 Z" fill="#eef0f1"/>
    <path d="M648.8 841.5 L665.5 843.6 L665.5 854.1 L648.8 854.1 Z" fill="#1f1f1f" opacity="0.7"/>
    <!-- motor -->
    <path d="M587.1 804.9 L644.6 803.8 Q658.2 807.0 657.2 824.8 Q657.2 840.5 644.6 844.0 L590.2 844.0 Z" fill="url(#gM8)"/>
    <ellipse cx="587.7" cy="823.1" rx="11.4" ry="19" fill="#161616" transform="rotate(-8 587.7 823.1)"/>
    <ellipse cx="586.4" cy="823.1" rx="8.4" ry="14.6" fill="#0c0c0c" transform="rotate(-8 586.4 823.1)"/>
    <ellipse cx="584.4" cy="823.1" rx="3.2" ry="5" fill="#2c2c2c"/>
    <path d="M602.8 807.0 Q605.9 824.8 602.8 842.5" stroke="#3a3a3a" stroke-width="0.7" fill="none"/>
    <rect x="617.8" y="820.2" width="4.2" height="6" rx="1" fill="#080808" stroke="#5a5a5a" stroke-width="0.4"/>
    <!-- lever -->
    <path d="M602.8 789.2 L606.9 791.3 L594.0 815.3 L589.8 813.3 Z" fill="#c6c8ca"/>
    <path d="M604.0 789.8 L605.7 790.7 L592.7 814.7 L591.0 813.9 Z" fill="#eceded"/>
    <!-- left tire -->
    <path d="M544.2 800.7 Q559.9 803.8 564.1 824.8 Q567.2 845.7 563.0 858.2 L544.2 858.2 Z" fill="#8c8c8c"/>
    <path d="M546.3 810.1 l9 3 l3 11 l-8 7 Z M552.6 818.5 l9 4 l2 12 l-8 5 Z M546.3 824.8 l10 3 l3 12 l-8 6 Z M553.8 833.1 l9 3 l1 12 l-8 5 Z M546.3 839.8 l10 3 l2 12 l-8 5 Z M553.4 846.7 l9 3 l0 10" fill="none" stroke="#777" stroke-width="0.7"/>
  </g>
</g>

<g id="cart">
  <defs>
    <linearGradient id="gPost" x1="0" x2="1"><stop offset="0" stop-color="#2d2d2d"/><stop offset="0.5" stop-color="#262626"/><stop offset="1" stop-color="#1d1d1d"/></linearGradient>
    <linearGradient id="gPostR" x1="0" x2="1"><stop offset="0" stop-color="#242424"/><stop offset="0.6" stop-color="#2c2c2c"/><stop offset="1" stop-color="#333"/></linearGradient>
    <linearGradient id="gBody" x1="0" y1="0" x2="1" y2="1"><stop offset="0" stop-color="#2b2b2b"/><stop offset="0.55" stop-color="#262626"/><stop offset="1" stop-color="#1f1f1f"/></linearGradient>
    <linearGradient id="gReel" x1="0" x2="1"><stop offset="0" stop-color="#bdbdbd"/><stop offset="0.45" stop-color="#f4f4f4"/><stop offset="1" stop-color="#c9c9c9"/></linearGradient>
    <linearGradient id="gRod" x1="0" y1="0" x2="0.35" y2="1"><stop offset="0" stop-color="#8f9396"/><stop offset="0.5" stop-color="#e6e8ea"/><stop offset="1" stop-color="#7d8184"/></linearGradient>
    <radialGradient id="gHub" cx="0.5" cy="0.45" r="0.6"><stop offset="0" stop-color="#f7f8f9"/><stop offset="1" stop-color="#dfe2e5"/></radialGradient>
  </defs>

  <!-- rear-left wheel seen through the frame -->
  <ellipse cx="250" cy="668.5" rx="11.5" ry="14.5" fill="#8f8f8f"/>
  <ellipse cx="251.5" cy="672" rx="9" ry="11" fill="#7f7f7f"/>
  <ellipse cx="258.6" cy="711" rx="19.4" ry="22.6" fill="#9c9c9c"/>
  <ellipse cx="259.2" cy="711.4" rx="16.6" ry="19.6" fill="#cdd0d3"/>
  <ellipse cx="259.8" cy="712" rx="13" ry="15.4" fill="#f0f1f2"/>
  <ellipse cx="260" cy="713" rx="8.6" ry="10.4" fill="#bfc2c5"/>
  <ellipse cx="260.4" cy="714" rx="4.6" ry="5.6" fill="#e6e8ea"/>
  <!-- strut + axle mount behind posts -->
  <path d="M291 626 L267.5 646.8 L244.3 672.9 L249.4 684.2 L249.4 713.7 L257.9 713.7 L257.9 694.4 L272 694.4 L291 664 Z" fill="#1e1e1e" stroke="#1e1e1e" stroke-width="0.6" stroke-linejoin="round"/>
  <rect x="257.9" y="694.4" width="10.6" height="16" fill="#b9bcbf"/>
  <rect x="260" y="694.4" width="3.4" height="16" fill="#eceeef"/>
  <path d="M262 700 l5 3 l-1 6 l-3 -2 Z" fill="#2a2a2a" stroke="#2a2a2a" stroke-width="0.6" stroke-linejoin="round"/>
  <!-- main inclined body + box -->
  <path d="M486.2 409.7 L491.5 411.5 L497.7 423 L482.7 442.4 L527.7 449.5 L525 462.7 L534.8 474.2 L507.4 491 L519.5 497 L520 623 L531 641.5 L533.6 651.5 L533.6 654.8 L487.8 657.5 L477.6 656.5 L471.5 652.4 L459.3 653.4 L410.4 664.6 L390 668.7 L357 676 L343.8 691 L330 698 L306 715 L300 715 L286 680 L286 625.3 Z" fill="url(#gBody)"/>
  <!-- rail face (slightly lighter band) -->
  <path d="M486.2 409.7 L491.5 411.5 L497.7 423 L310 628 L288 623.2 Z" fill="#2a2a2a" stroke="#2a2a2a" stroke-width="0.6" stroke-linejoin="round"/>
  <path d="M492 428 L300 634" stroke="#3a3a3a" stroke-width="0.8" fill="none"/>
  <path d="M471.9 438 L387 530" stroke="#161616" stroke-width="1.6" fill="none"/>
  <path d="M446.3 450.6 L449.2 452.8 L435 468.2 L431.8 466 Z" fill="#222" stroke="#222222" stroke-width="0.6" stroke-linejoin="round"/>
  <!-- box side face -->
  <path d="M506 470 L519.5 497 L520 623 L531 641.5 L533.6 651.5 L533.6 655.2 L506 658 Z" fill="#262626" stroke="#262626" stroke-width="0.6" stroke-linejoin="round"/>
  <path d="M482.7 442.4 L527.7 449.5 L525 462.7 L506 470 Z" fill="#1d1d1d" stroke="#1d1d1d" stroke-width="0.6" stroke-linejoin="round"/>
  <!-- battery sliver -->
  <rect x="519.6" y="544" width="2.2" height="58" rx="1" fill="#1c4f9a"/>
  <!-- recess under push rod -->
  <path d="M348.3 603.3 L365.4 611.4 L335.2 644 L312.4 640.8 Z" fill="#141414" stroke="#141414" stroke-width="0.6" stroke-linejoin="round"/>
  <path d="M289.6 640.8 L341.7 660.3 L338.5 665.2 L289.6 647.3 Z" fill="#2e2e2e" stroke="#2e2e2e" stroke-width="0.6" stroke-linejoin="round"/>
  <!-- white gap between lower rail and motor housing -->
  <path d="M289.4 656.3 L297.7 657.1 L327 671.7 L317.3 671.9 Q306 669 298 672 Q292 674.4 289.4 678 Z" fill="#fff"/>
  <circle cx="323.8" cy="654.8" r="1.3" fill="#f2f2f2"/>
  <!-- slots -->
  <path d="M470 640 h14 M462 646.5 h22 M466 652 h12" stroke="#111" stroke-width="1.3"/>

  <!-- under tray -->
  <path d="M410.4 665.7 L430.8 663.6 L453.2 676.9 L461.3 673.8 L479.7 656.5 L487.8 657.5 L487.8 662.6 L461.3 687 L449.1 690 L428.7 683 Z" fill="#1c1c1c" stroke="#1c1c1c" stroke-width="0.6" stroke-linejoin="round"/>
  <path d="M428.7 681 L439 685.2 L437.6 688.4 L427.4 684 Z" fill="#1a1a1a" stroke="#1a1a1a" stroke-width="0.6" stroke-linejoin="round"/>
  <!-- rear caster -->
  <ellipse cx="490.1" cy="692.8" rx="26.5" ry="28.4" fill="#818181"/>
  <ellipse cx="490.6" cy="693.4" rx="19" ry="21" fill="#8e8e8e"/>
  <ellipse cx="491" cy="694" rx="12" ry="13.6" fill="#858585"/>
  <ellipse cx="485.7" cy="706" rx="2.6" ry="1.9" fill="#f0f0f0"/>
  <ellipse cx="482.4" cy="689" rx="1.7" ry="3.4" fill="#5e5e5e" transform="rotate(15 482.4 689)"/><ellipse cx="502.6" cy="697" rx="1.6" ry="3.2" fill="#5e5e5e" transform="rotate(15 502.6 697)"/>
  <path d="M499.5 656.5 L515 656.5 C515.4 668 512 678 507 686 C503 692.6 500 696 496.4 697.6 C492 698.6 490.6 694.6 493.4 692 C497.6 688 500.4 683 501.1 677.5 C501.6 671 500.6 664 499.5 656.5 Z" fill="#1b1b1b" stroke="#1b1b1b" stroke-width="0.6" stroke-linejoin="round"/>
  <path d="M507.6 657 C508 668 505.6 678 500 688" stroke="#333" stroke-width="0.8" fill="none"/>

  <!-- sticker -->
  <path d="M470 558.6 L491 555.6 Q495 555.4 495.1 559.5 L495.1 618 Q495 621.6 491.4 622 L416 633.6 Q409.4 634 412 629.6 Z" fill="#1a64a8"/>
  <path d="M452 581.4 L451.6 604 Q451.4 606.2 449.7 606.4 L428.6 608.75 Z" fill="#f3e51c"/>
  <path d="M489.2 559.6 L492.8 566.4 L485.6 566.6 Z" fill="#f5d21a"/>
  <rect x="488.9" y="561.8" width="0.7" height="2.6" fill="#222"/>
  <text x="468" y="568" font-family="Liberation Sans, sans-serif" font-size="5.8" font-weight="700" font-style="italic" fill="#fff" textLength="17" lengthAdjust="spacingAndGlyphs" transform="rotate(-4 468 568)">NOTICE</text>
  <text x="438.6" y="602" font-family="Liberation Sans, sans-serif" font-size="4" font-weight="700" fill="#2b8a6a" textLength="10.4" lengthAdjust="spacingAndGlyphs" transform="rotate(-5 438 602)">KSTO</text>
  <g fill="none" stroke="#b9d23e" stroke-width="0.7">
    <circle cx="462.5" cy="577.5" r="2.8"/><circle cx="484" cy="574.4" r="2.8"/>
    <circle cx="462.5" cy="593" r="2.8"/><circle cx="484" cy="590" r="2.8"/>
    <circle cx="436" cy="616.6" r="2.8"/><circle cx="461" cy="613.4" r="2.8"/><circle cx="484" cy="610.3" r="2.8"/>
  </g>
  <g stroke="#d63a3a" stroke-width="0.7"><path d="M482 572.6 l4 3.6 M434 614.8 l4 3.6"/></g>
  <g stroke="#a9c8ea" stroke-width="0.55" opacity="0.85">
    <path d="M455.6 583.6 l12 -1.4 M455.6 585.4 l8 -0.9 M477 581 l14 -1.6 M477 582.8 l9 -1 M455.6 599 l15 -1.7 M455.6 600.8 l12 -1.4 M455.6 602.6 l9 -1 M477 596.4 l15 -1.7 M477 598.2 l13 -1.5 M477 600 l8 -0.9 M426 623.4 l20 -2.4 M426 625.2 l14 -1.7 M455 619.6 l16 -1.9 M455 621.4 l12 -1.4 M477 616.6 l15 -1.8 M477 618.4 l10 -1.2"/>
  </g>

  <!-- handle -->
  <g fill="none" stroke="#222" stroke-linecap="butt" stroke-linejoin="round">
    <path d="M493 421.6 L509.4 404.2 Q512.4 401 517 401 L546 400.4 L582 399.4" stroke-width="7.2"/>
    <path d="M564.6 434.6 L574 422.6 L579.5 415.4 Q583.4 410.6 590 410.2 L642 408.8" stroke-width="8.2"/>
  </g>
  <!-- right loop -->
  <path d="M625 403 L652 402.7 C660 403.4 667 408.4 671.5 414 C675 419 673 423.6 666 423.3 C660 423 655 420.6 651.9 419.2 L644 413 L625 410 Z" fill="#272727" stroke="#272727" stroke-width="0.6" stroke-linejoin="round"/>
  <path d="M644.8 410.6 L659 411.4 C664 412.4 667 415.5 666.4 417.6 L652 414.2 Z" fill="#161616" stroke="#161616" stroke-width="0.6" stroke-linejoin="round"/>
  <!-- panel plate -->
  <path d="M540 396.6 L546 394.9 L578 394.9 L612.4 399.2 L621 401.3 L626.3 402.9 L642 403.4 L642 410 L591 410 L575.4 409.6 L548 404.4 L540 404.4 Z" fill="#202020" stroke="#202020" stroke-width="0.6" stroke-linejoin="round"/>
  <path d="M546 395.2 L578 395.2 L612.4 399.4 L600 400.4 L570 397.4 L546 397 Z" fill="#2e2e2e" stroke="#2e2e2e" stroke-width="0.6" stroke-linejoin="round"/>
  <path d="M579.4 395.6 L613 398 L621 401.8" stroke="#3a3a3a" stroke-width="0.6" fill="none"/>
  <!-- under panel box -->
  <path d="M583 419.3 L588.5 414.4 L643 413.6 L643 424 L610 425.4 L587.4 423.2 Z" fill="#1b1b1b" stroke="#1b1b1b" stroke-width="0.6" stroke-linejoin="round"/>
  <path d="M583 419.3 L588.5 414.4 L601.5 414.4 L610.2 422.6 L609 424.9 L587.4 423.2 Z" fill="#383838" stroke="#383838" stroke-width="0.6" stroke-linejoin="round"/>
  <!-- joystick / e-stop -->
  <rect x="613" y="389" width="3.9" height="8.4" rx="0.6" fill="#1d1d1d"/>
  <path d="M614.6 396.6 L617.4 396.2 L621.4 400.6 L619 401.8 Z" fill="#d8262c"/>
  <!-- left rail bracket -->
  <path d="M486.2 409.7 L491.5 411.5 L497.7 423 L482.7 442.4 L470 441 L463 433.8 Z" fill="#232323" stroke="#232323" stroke-width="0.6" stroke-linejoin="round"/>
  <!-- right bracket -->
  <path d="M557.8 419.5 L564 421.2 L570 431.8 L534.8 474.2 L525 462.7 L531.3 446.8 Z" fill="#242424" stroke="#242424" stroke-width="0.6" stroke-linejoin="round"/>
  <g fill="#dcdcdc" stroke="#8d8d8d" stroke-width="0.4"><circle cx="489.4" cy="420.9" r="1.6"/><circle cx="475" cy="436.2" r="1.6"/><circle cx="560.4" cy="430" r="1.6"/><circle cx="545" cy="446.8" r="1.6"/></g>

  <!-- back frame : arch + first crossbar -->
  <path fill-rule="evenodd" fill="url(#gPost)" d="M204.2 250 L204.3 238 C204.5 224 208 219.3 216 218.5 L251 214.6 L271 215.2 C277.5 215.5 283.5 226 284 246 L286 414 L264 414 L263.7 412.2 L228.2 407.3 L228.3 414 L207.5 414 Z
    M227.7 387.7 L225 246 C225.2 232 228 227 235 226.8 L244.6 226 L245.5 305 L247.3 389.3 Z
    M257.6 230.5 L258.3 239 L258.6 305 L260.2 360 L260.8 391 L263.4 391.5 L262.7 360 L262.3 305 L261.6 239 Z"/>
  <!-- shading of arch (right post lighter face) -->
  <path d="M262 240 L284 246 L286 414 L264 414 Z" fill="#2f2f2f" opacity="0.55"/>
  <path d="M244.6 228 L258 232 L260.8 391 L247.3 389.3 Z" fill="#1d1d1d" stroke="#1d1d1d" stroke-width="0.6" stroke-linejoin="round"/>
  <!-- lower posts -->
  <path d="M207.5 413 L228.3 413 L232.9 648 L212.2 648 Z" fill="url(#gPost)"/>
  <path d="M264 413 L286 413 L289.3 680 L270.9 680 Z" fill="url(#gPostR)"/>
  <!-- crossbars -->
  <path d="M230.5 535 L267 546 L267.5 565.6 L231 548 Z" fill="#242424" stroke="#242424" stroke-width="0.6" stroke-linejoin="round"/>
  <rect x="237" y="540.6" width="15.4" height="32.4" fill="#202020"/>
  <rect x="237" y="540.6" width="6" height="32.4" fill="#2a2a2a"/>
  <path d="M225.2 589.6 L267.5 601.5 L268 625 L225.2 614 Z" fill="#232323" stroke="#232323" stroke-width="0.6" stroke-linejoin="round"/>
  <path d="M225.2 598 L267.6 610" stroke="#141414" stroke-width="1"/>
  <g fill="#dadada"><circle cx="242.6" cy="602.6" r="1.8"/><circle cx="251.3" cy="607" r="1.8"/><circle cx="242.6" cy="615" r="1.8"/><circle cx="251.3" cy="620" r="1.8"/></g>
  <g fill="#111"><circle cx="219" cy="426" r="0.8"/><circle cx="277.5" cy="437" r="0.8"/></g>

  <!-- reel bracket + arms -->
  <path d="M276 577.6 L289.3 579 L289.3 611.3 L276 610 Z" fill="#1c1c1c" stroke="#1c1c1c" stroke-width="0.6" stroke-linejoin="round"/>
  <path d="M289 588.5 L311 585 L345.3 586.8 L345.3 601.8 L326 601 L314 598.5 L289 600.5 Z" fill="#1f1f1f" stroke="#1f1f1f" stroke-width="0.6" stroke-linejoin="round"/>
  <path d="M318 589.5 L341 590 L341 597 L322 597 Z" fill="#2d2d2d" stroke="#2d2d2d" stroke-width="0.6" stroke-linejoin="round"/>
  <!-- push rod -->
  <path d="M288 612.8 L337.5 630.2 L336.2 635.4 L286.8 618 Z" fill="url(#gRod)"/>
  <!-- reel -->
  <path d="M295.4 591.7 H313.7 V604 Q313.7 607.4 304.5 607.4 Q295.4 607.4 295.4 604 Z" fill="url(#gReel)"/>
  <path d="M297 586 Q297 583.6 304.5 583.6 Q312 583.6 312 586 V592 Q312 593.4 304.5 593.4 Q297 593.4 297 592 Z" fill="#1a1a1a" stroke="#1a1a1a" stroke-width="0.6" stroke-linejoin="round"/>

  <!-- loading plate -->
  <path d="M188.3 746.5 L217 741 L240 738 L271 760 L271 782 L246 788 L188.3 748.6 Z" fill="#1f1f1f" stroke="#1f1f1f" stroke-width="0.6" stroke-linejoin="round"/>
  <path d="M188.3 746.5 L217 741 L240 738 L271 760 L271 779.6 L246 785.6 Z" fill="#272727" stroke="#272727" stroke-width="0.6" stroke-linejoin="round"/>
  <!-- brackets -->
  <path d="M212.2 648 L231.7 648 L248 685.7 L239.3 737.8 L240 742.5 L212.2 742.5 Z" fill="#222" stroke="#222222" stroke-width="0.6" stroke-linejoin="round"/>
  <path d="M270.9 680 L289.3 680 L302 695 L304 716 L302 770 Q302 781 294 781.5 L270.9 782.4 Z" fill="#232323" stroke="#232323" stroke-width="0.6" stroke-linejoin="round"/>
  <g fill="#e0e0e0" stroke="#8a8a8a" stroke-width="0.5">
    <circle cx="226.7" cy="660.7" r="1.9"/><circle cx="243" cy="687.8" r="1.9"/><circle cx="228.5" cy="713.9" r="1.9"/><circle cx="232.2" cy="733" r="1.9"/>
    <circle cx="283.3" cy="690.4" r="2"/><circle cx="300.2" cy="719.6" r="2"/><circle cx="283.9" cy="747.6" r="2"/><circle cx="287.2" cy="767.6" r="2.2"/>
  </g>

  <!-- motor housing hint -->
  <path d="M290 680 Q296 672.6 306 671.6 Q318 671 326 676 L320 696 L300 708 Z" fill="#1c1c1c" stroke="#1c1c1c" stroke-width="0.6" stroke-linejoin="round"/>
  <path d="M292 678.6 Q298 673.4 306 672.6 Q316 672 322 675" stroke="#3a3a3a" stroke-width="1" fill="none"/>

  <!-- brake lever -->
  <path d="M363.6 678.3 L352.4 691.6" stroke="#bfc2c4" stroke-width="2.4" stroke-linecap="round"/>
  <path d="M343 691 L351 693.5 L360.5 693 L360 696 L350 697 L342.5 694 Z" fill="#1b1b1b" stroke="#1b1b1b" stroke-width="0.6" stroke-linejoin="round"/>

  <!-- drive wheel -->
  <ellipse cx="342.6" cy="741.2" rx="42" ry="43.8" fill="#9b9b9b"/>
  <path d="M342.6 785 A42 43.8 0 0 1 302 752 L312 752 A34 40 0 0 0 350 781 Z" fill="#838383" opacity="0.7"/>
  <g fill="none" stroke="#8d8d8d" stroke-width="0.5" opacity="0.8">
    <path d="M306 722 l4 -3 l4 3 l0 5 l-4 3 l-4 -3 Z M303 736 l4 -3 l4 3 l0 5 l-4 3 l-4 -3 Z M304 751 l4 -3 l4 3 l0 5 l-4 3 l-4 -3 Z M311 729 l4 -3 l4 3 M311 744 l4 -3 l4 3 M313 711 l4 -3 l4 3 l0 5 l-4 3 M322 702 l4 -3 l4 3 l0 4 M309 765 l4 -3 l4 3 l0 5"/>
  </g>
  <ellipse cx="350.4" cy="741.6" rx="35" ry="42" fill="#8c8c8c"/>
  <ellipse cx="349.3" cy="743.2" rx="31" ry="34.4" fill="url(#gHub)"/>
  <ellipse cx="349.3" cy="743.2" rx="31" ry="34.4" fill="none" stroke="#c4c8cb" stroke-width="1"/>
  <ellipse cx="349.3" cy="743.2" rx="27.6" ry="31" fill="none" stroke="#d3d6d9" stroke-width="0.8"/>
  <g fill="#1c1c1c">
    <ellipse cx="327.2" cy="733.6" rx="4.4" ry="5" transform="rotate(-15 327.2 733.6)"/>
    <path d="M330.6 722 L338 716.4 L337.4 722.6 L333 725.4 Z"/>
    <ellipse cx="349.2" cy="719.4" rx="2.7" ry="6.6" transform="rotate(6 349.2 719.4)"/>
    <ellipse cx="332.8" cy="759.4" rx="3" ry="6.2" transform="rotate(32 332.8 759.4)"/>
    <path d="M319.6 746 L324.6 748.6 L323 755.6 L320.4 752 Z"/>
    <ellipse cx="358.4" cy="761.6" rx="3.4" ry="4.6" transform="rotate(-28 358.4 761.6)"/>
    <circle cx="346.9" cy="742.3" r="3.3"/>
  </g>
  <g fill="#5a5d60">
    <ellipse cx="367" cy="736.6" rx="5.4" ry="3" transform="rotate(-24 367 736.6)"/>
    <path d="M364 748 L371.6 746.6 L367 754 Z"/>
  </g>
  <g fill="#b9bdc0">
    <path d="M358.6 716 L366 723 L360.4 724.6 Z"/>
    <ellipse cx="353.8" cy="756.6" rx="3" ry="4.6" transform="rotate(-28 353.8 756.6)"/>
    <ellipse cx="323.4" cy="731.6" rx="1.8" ry="4.4" transform="rotate(-15 323.4 731.6)"/>
  </g>
  <circle cx="346.9" cy="742.3" r="7.2" fill="none" stroke="#d0d4d7" stroke-width="1.4"/>
</g>

<g id="lines" fill="none" stroke="#2268aa" stroke-width="1">
  <path d="M180 272.4 H222.5"/>
  <path d="M180 455.5 H225.2 L300.2 594.5"/>
  <path d="M180 616.8 H300.2"/>
  <path d="M180 761.8 H231.6"/>
  <path d="M347.8 776.5 V850"/>
  <path d="M363.9 677.9 L443 772.9 H544"/>
  <path d="M361.8 275 V377.5 H543.6"/>
  <path d="M523.6 549.3 H544"/>
  <path d="M523.6 643 H544"/>
  <path d="M543.6 377.3 H676 V425.2 H543.6 Z" stroke-dasharray="1.8 2.2" stroke-width="1.2" stroke="#2b72b8"/>
</g>
<g id="markers">
  <g fill="#fff" stroke="#f5bd0a" stroke-width="3.2">
    <circle cx="180" cy="272.4" r="3.5"/>
    <circle cx="180" cy="455.6" r="3.5"/>
    <circle cx="180" cy="616.9" r="3.5"/>
    <circle cx="179.8" cy="761.9" r="3.5"/>
    <circle cx="361.6" cy="275" r="3.5"/>
    <circle cx="544" cy="549.3" r="3.5"/>
    <circle cx="544" cy="643" r="3.5"/>
    <circle cx="544" cy="773.5" r="3.5"/>
    <circle cx="347.8" cy="855.3" r="3.5"/>
  </g>
  <g fill="#fff" stroke="#f2c01c" stroke-width="1">
    <circle cx="222.5" cy="272.2" r="2.6"/>
    <circle cx="300.2" cy="594.5" r="2.6"/>
    <circle cx="300.2" cy="616.8" r="2.6"/>
    <circle cx="231.6" cy="761.4" r="2.6"/>
    <circle cx="347.8" cy="776.5" r="2.6"/>
    <circle cx="363.9" cy="677.9" r="2.6"/>
    <circle cx="543.6" cy="377.4" r="2.6"/>
    <circle cx="523.6" cy="549.3" r="2.6"/>
    <circle cx="523.6" cy="643" r="2.6"/>
  </g>
</g>

<g id="icons">
  <g fill="#fff" stroke="#2f2a28" stroke-width="0.85">
    <circle cx="547.4" cy="209.7" r="11.7"/><circle cx="605.2" cy="209.7" r="11.7"/><circle cx="667.4" cy="209.7" r="11.7"/>
    <circle cx="547.4" cy="244.8" r="11.7"/><circle cx="605.2" cy="244.8" r="11.7"/><circle cx="667.4" cy="244.8" r="11.7"/>
  </g>
  <!-- flip up -->
  <g fill="none" stroke="#2f2a28" stroke-width="1.2" stroke-linecap="round" stroke-linejoin="round">
    <path d="M545.2 218.2 L553.4 203.4"/>
    <path d="M540.2 213 Q540.4 206.4 548 205.6"/>
    <path d="M545.6 204.2 L548.6 205.6 L546.6 208.2"/>
    <!-- flip down -->
    <path d="M545.2 253.4 L553.6 238.4"/>
    <path d="M548.4 240.8 Q541 241.6 540.4 248.6"/>
    <path d="M538.6 246.4 L540.4 249 L543 247.2"/>
  </g>
  <!-- lift up -->
  <g fill="#2f2a28">
    <path d="M605.3 202.4 L610.4 208.4 L608 208.4 L608 211.4 L602.6 211.4 L602.6 208.4 L600.2 208.4 Z"/>
    <rect x="602.6" y="212.3" width="5.4" height="1.4"/><rect x="602.6" y="214.5" width="5.4" height="1.4"/><rect x="602.6" y="216.6" width="5.4" height="0.9"/>
    <!-- lift down -->
    <path d="M605.3 252.6 L610.4 246.4 L608 246.4 L608 244.2 L602.6 244.2 L602.6 246.4 L600.2 246.4 Z"/>
    <rect x="602.6" y="237.6" width="5.4" height="1"/><rect x="602.6" y="239.6" width="5.4" height="1.5"/><rect x="602.6" y="242" width="5.4" height="1.5"/>
  </g>
  <!-- plus / minus -->
  <g stroke="#2f2a28" stroke-width="1.5" fill="none">
    <path d="M662.2 209.9 H672.8 M667.5 204.6 V215.2"/>
    <path d="M663.4 245 H671.6"/>
  </g>
</g>

</svg>
<div id="tx">
<div class="x t" style="left:54.3px;top:20.9px;letter-spacing:0.864px">Electric Moving Cart ET400</div>
<div class="x h" style="left:54.0px;top:107.2px;letter-spacing:1.659px">Item Details</div>
<div class="x b" style="left:38.0px;top:296.1px;letter-spacing:-0.056px">Carrier</div>
<div class="x r" style="left:40.4px;top:311.0px;letter-spacing:-0.081px">Made Of Alloy Steel Material,</div>
<div class="x r" style="left:38.0px;top:324.9px;letter-spacing:-0.021px">Strong and Wear-resistant</div>
<div class="x b" style="left:38.0px;top:475.8px;letter-spacing:-0.253px">Safe Strap</div>
<div class="x r" style="left:38.0px;top:493.4px;letter-spacing:0.042px">Quickly Pull Out/Stow Away to</div>
<div class="x r" style="left:38.0px;top:506.8px;letter-spacing:-0.166px">Secure Cargo</div>
<div class="x b" style="left:38.0px;top:639.2px;letter-spacing:-0.363px">Electric Push Rod</div>
<div class="x r" style="left:38.0px;top:656.1px;letter-spacing:-0.061px">10000N High Thrust, Fast Speed,</div>
<div class="x r" style="left:38.0px;top:669.4px;letter-spacing:0.101px">Adaptive Thrust Control</div>
<div class="x b" style="left:38.2px;top:802.1px;letter-spacing:-0.134px">Loading Plate</div>
<div class="x r" style="left:38.0px;top:819.3px;letter-spacing:0.168px">Insert Into the Bottom of the Cargo</div>
<div class="x b" style="left:373.0px;top:295.8px;letter-spacing:-0.058px">Control Panel</div>
<div class="x r" style="left:373.0px;top:313.3px;letter-spacing:0.069px">Switch The Running Mode Through The Button</div>
<div class="x r" style="left:373.0px;top:330.9px;letter-spacing:0.031px">Control the Moving Cart Through The Joystick</div>
<div class="x r" style="left:373.0px;top:348.8px;letter-spacing:0.017px">The Red Button is Emergency Stop Button</div>
<div class="x r" style="left:523.7px;top:271.1px;letter-spacing:-0.063px">Flip Button</div>
<div class="x r" style="left:582.7px;top:271.1px;letter-spacing:0.002px">Lift Button</div>
<div class="x r" style="left:636.7px;top:271.1px;letter-spacing:-0.437px">Speed Control</div>
<div class="x r" style="left:652.8px;top:283.9px;letter-spacing:-0.196px">Button</div>
<div class="x b" style="left:545.0px;top:563.9px;letter-spacing:0.028px">Battery</div>
<div class="x r" style="left:545.0px;top:581.1px;letter-spacing:-0.009px">Play And Plug With Auto Connection</div>
<div class="x r" style="left:545.0px;top:594.1px;letter-spacing:0.066px">Independent Switch,</div>
<div class="x r" style="left:545.0px;top:608.2px;letter-spacing:0.095px">Display battery level and voltage</div>
<div class="x b" style="left:545.0px;top:730.2px;letter-spacing:-0.122px">Footrest Design</div>
<div class="x r" style="left:545.0px;top:747.7px;letter-spacing:-0.080px">Easy To Lift The Cargo</div>
<div class="x b" style="left:545.0px;top:865.2px;letter-spacing:0.025px">Motor Brake</div>
<div class="x r" style="left:545.0px;top:882.4px;letter-spacing:-0.334px">Turn Off The Battery and Push Manually</div>
<div class="x b" style="left:259.8px;top:850.8px;letter-spacing:-0.082px">Driving Wheels</div>
<div class="x r" style="left:260.0px;top:868.0px;letter-spacing:-0.016px">Rubber Drive Wheels With Strong Grip,</div>
<div class="x r" style="left:260.0px;top:882.0px;letter-spacing:0.116px">Anti-corrosion, Anti-slip, Oil-proof, Shock-proof</div>
</div>
</body></html>
